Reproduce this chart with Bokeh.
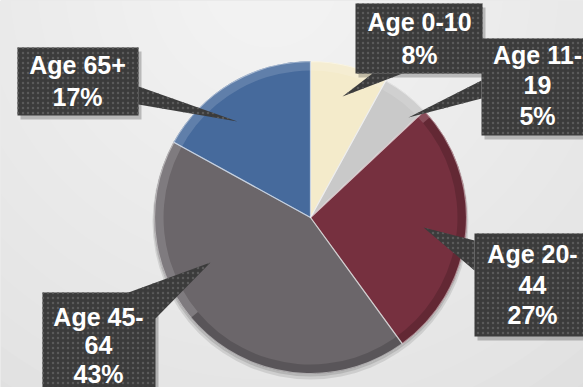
import numpy as np
from bokeh.plotting import figure
from bokeh.models import Range1d, ColumnDataSource
from bokeh.embed import file_html
from bokeh.resources import INLINE
from bokeh.core.properties import value

# ---- data ----
categories = ["Age 0-10", "Age 11-19", "Age 20-44", "Age 45-64", "Age 65+"]
percents = [8, 5, 27, 43, 17]
colors = ["#F4EBCB", "#C9C9C9", "#76303F", "#6B666A", "#466A9C"]

# ---- layout (screen pixels, y down) ----
W, H = 583, 387
CX, CY, R = 310, 217, 156
# box (x0, x1, y0, y1), pointer base pts, pointer tip, text centre x, line centres, wrap
label_layout = [
    dict(box=(355, 482, 3, 73), base=[(372, 73), (402, 73)], tip=(342, 96), tx=419, lines=[21, 54], wrap=False),
    dict(box=(481, 600, 38, 135), base=[(481, 80), (481, 98)], tip=(408, 117), tx=537, lines=[54, 84, 115], wrap=True),
    dict(box=(474, 600, 233, 336), base=[(474, 240), (474, 270)], tip=(423, 227), tx=532, lines=[253, 284, 314], wrap=True),
    dict(box=(42, 155, 292, 420), base=[(128, 292), (155, 318)], tip=(210, 262), tx=98, lines=[316, 344, 373], wrap=True),
    dict(box=(17, 138, 47, 115), base=[(138, 86), (138, 104)], tip=(237, 121), tx=77, lines=[64, 96], wrap=False),
]

def sy(y):
    return H - y

p = figure(width=W, height=H, x_range=Range1d(0, W), y_range=Range1d(0, H),
           output_backend="svg", toolbar_location=None, min_border=0)
p.axis.visible = False
p.grid.visible = False
p.outline_line_color = None
p.background_fill_color = "#D6D6D6"
p.border_fill_color = "#D6D6D6"

# soft radial background
radii = np.linspace(620, 40, 22)
p.circle(x=[270] * len(radii), y=[sy(-20)] * len(radii), radius=radii,
         fill_color="white", fill_alpha=0.07, line_color=None)

# pie shadow
p.circle(x=[CX], y=[sy(CY) - 4], radius=R + 2, fill_color="black", fill_alpha=0.10, line_color=None)
p.circle(x=[CX], y=[sy(CY) - 2], radius=R + 1, fill_color="black", fill_alpha=0.12, line_color=None)

# pie wedges
frac = np.array(percents, dtype=float) / sum(percents)
cum = np.concatenate([[0.0], np.cumsum(frac)[:-1]])
start = np.pi / 2 - 2 * np.pi * cum
end = start - 2 * np.pi * frac
src = ColumnDataSource(dict(cat=categories, pct=percents, color=colors,
                            start=start, end=end))
p.wedge(x=CX, y=sy(CY), radius=R, start_angle="end", end_angle="start",
        direction="anticlock", fill_color="color", line_color="color",
        line_width=1, source=src)
# bevel rim
p.annular_wedge(x=CX, y=sy(CY), inner_radius=R - 9, outer_radius=R,
                start_angle=np.deg2rad(40), end_angle=np.deg2rad(220),
                fill_color="white", fill_alpha=0.14, line_color=None)
p.annular_wedge(x=CX, y=sy(CY), inner_radius=R - 9, outer_radius=R,
                start_angle=np.deg2rad(220), end_angle=np.deg2rad(400),
                fill_color="black", fill_alpha=0.16, line_color=None)
p.wedge(x=CX, y=sy(CY), radius=R, start_angle="end", end_angle="start",
        direction="anticlock", fill_color=None, line_color="white",
        line_alpha=0.45, line_width=1.2, source=src)

# callouts
BOX = dict(fill_color="#3B3B3B", line_color=None, hatch_pattern="dot",
           hatch_color="#5A5A5A", hatch_scale=5, hatch_weight=1.5)
for lay in label_layout:
    x0, x1, y0, y1 = lay["box"]
    p.quad(left=[x0 + 3], right=[x1 + 3], top=[sy(y0 + 4)], bottom=[sy(y1 + 4)],
           fill_color="black", fill_alpha=0.22, line_color=None)
for lay in label_layout:
    (bx1, by1), (bx2, by2) = lay["base"]
    tx, ty = lay["tip"]
    p.patch(x=[bx1, bx2, tx], y=[sy(by1), sy(by2), sy(ty)], **BOX)
    x0, x1, y0, y1 = lay["box"]
    p.quad(left=[x0], right=[x1], top=[sy(y0)], bottom=[sy(y1)], **BOX)

texts, txs, tys = [], [], []
for cat, pct, lay in zip(categories, percents, label_layout):
    if lay["wrap"]:
        head, tail = cat.split("-", 1)
        parts = [head + "-", tail]
    else:
        parts = [cat]
    parts.append(f"{pct}%")
    for part, mid in zip(parts, lay["lines"]):
        texts.append(part)
        txs.append(lay["tx"])
        tys.append(sy(mid))
p.text(x=txs, y=tys, text=texts, text_align="center", text_baseline="middle",
       text_font=value("Liberation Sans"), text_font_style="bold",
       text_font_size="25px", text_color="white")

open("out.html", "w").write(file_html(p, INLINE))
